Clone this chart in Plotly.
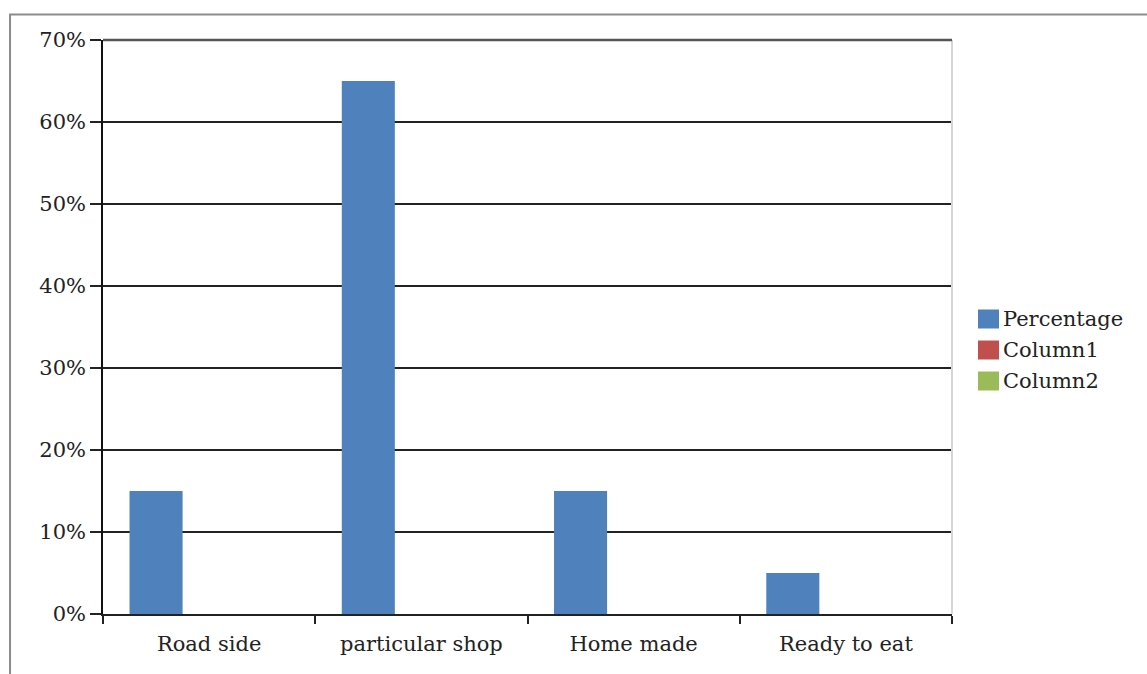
import plotly.graph_objects as go

# Source of food by category
categories = ["Road side", "particular shop", "Home made", "Ready to eat"]
percentage = [0.15, 0.65, 0.15, 0.05]
column1 = [0, 0, 0, 0]
column2 = [0, 0, 0, 0]

series_names = ["Percentage", "Column1", "Column2"]
series_values = [percentage, column1, column2]
series_colors = ["#4F81BD", "#C0504D", "#9BBB59"]

FONT = "DejaVu Serif"
TEXT = "#222222"

fig = go.Figure()
for name, vals, color in zip(series_names, series_values, series_colors):
    fig.add_trace(go.Bar(
        x=categories, y=vals, name=name,
        marker=dict(color=color, line=dict(width=0)),
    ))

fig.update_layout(
    width=1147, height=674,
    margin=dict(l=103, r=195, t=40, b=60),
    paper_bgcolor="white", plot_bgcolor="white",
    barmode="group", bargap=0.25, bargroupgap=0,
    font=dict(family=FONT, size=21, color=TEXT),
    showlegend=False,
)

fig.update_yaxes(
    range=[0, 0.7], dtick=0.1, tickformat=".0%",
    showgrid=True, gridcolor="#222222", gridwidth=1.5,
    showline=True, linecolor="#111111", linewidth=1.5,
    ticks="outside", ticklen=11, tickcolor="#222222", tickwidth=1.5,
    zeroline=False,
)
fig.update_xaxes(
    showgrid=False,
    showline=True, linecolor="#222222", linewidth=1.5,
    ticks="outside", ticklen=8, tickcolor="#222222", tickwidth=1.5,
    tickson="boundaries", ticklabelstandoff=10,
)

# right edge of plot area, heavier top edge, and outer chart border
fig.add_shape(type="line", xref="paper", yref="paper", x0=1, x1=1, y0=0, y1=1,
              line=dict(color="#d6d6d6", width=2))
fig.add_shape(type="line", xref="paper", yref="paper", x0=0, x1=1, y0=1, y1=1,
              line=dict(color="#555555", width=2.5))
fig.add_shape(type="rect", xref="paper", yref="paper",
              x0=-0.1095, x1=1.25, y0=-0.12, y1=1.0444,
              line=dict(color="#8c8c8c", width=2), layer="below")

# legend drawn as colour boxes with labels
plot_w, plot_h = 849, 574
legend_rows_px = [319, 350, 381]
for name, color, row in zip(series_names, series_colors, legend_rows_px):
    yc = (614 - row) / plot_h
    fig.add_shape(type="rect", xref="paper", yref="paper",
                  x0=(978 - 103) / plot_w, x1=(999 - 103) / plot_w,
                  y0=yc - 9.5 / plot_h, y1=yc + 9.5 / plot_h,
                  fillcolor=color, line=dict(width=0))
    fig.add_annotation(xref="paper", yref="paper",
                       x=(1001 - 103) / plot_w, y=yc,
                       xanchor="left", yanchor="middle",
                       text=name, showarrow=False,
                       font=dict(family=FONT, size=21, color=TEXT))

fig.write_html("out.html")
